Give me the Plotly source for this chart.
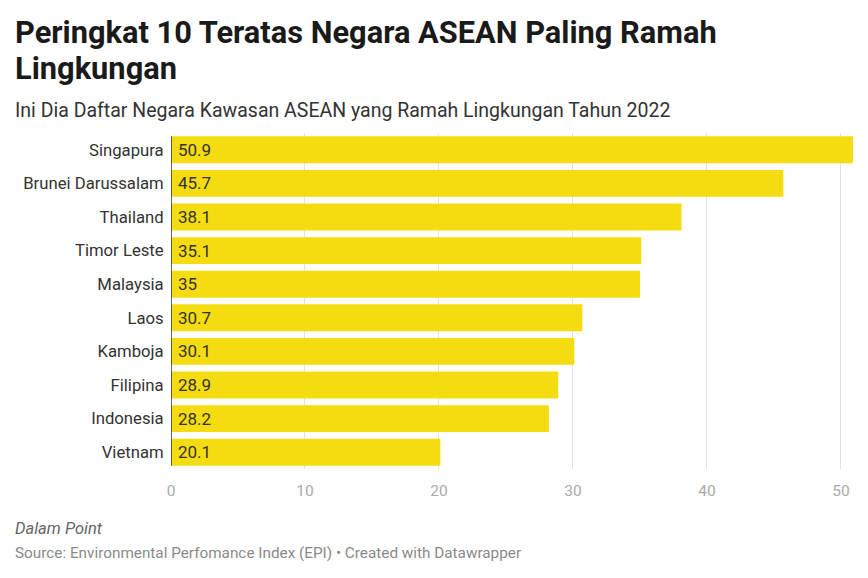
import plotly.graph_objects as go

countries = ["Singapura", "Brunei Darussalam", "Thailand", "Timor Leste", "Malaysia",
             "Laos", "Kamboja", "Filipina", "Indonesia", "Vietnam"]
values = [50.9, 45.7, 38.1, 35.1, 35, 30.7, 30.1, 28.9, 28.2, 20.1]
value_labels = ["50.9", "45.7", "38.1", "35.1", "35", "30.7", "30.1", "28.9", "28.2", "20.1"]
x_ticks = [0, 10, 20, 30, 40, 50]

title_lines = ["Peringkat 10 Teratas Negara ASEAN Paling Ramah", "Lingkungan"]
subtitle = "Ini Dia Daftar Negara Kawasan ASEAN yang Ramah Lingkungan Tahun 2022"
note = "Dalam Point"
source = "Source: Environmental Perfomance Index (EPI) • Created with Datawrapper"

W, H = 868, 578
ML, MR, MT, MB = 171, 15, 133, 109
FONT = "Roboto"

plot_w = W - ML - MR
plot_h = H - MT - MB


def py(y):
    # page pixel y (from top) -> paper fraction
    return (H - MB - y) / plot_h


def px(x):
    return (x - ML) / plot_w


fig = go.Figure()
fig.add_trace(go.Bar(
    y=countries, x=values, orientation="h",
    marker=dict(color="#f5dc10", line=dict(width=0)),
    hoverinfo="skip",
))

annotations = []
for c, lab in zip(countries, value_labels):
    annotations.append(dict(x=0, y=c, xref="x", yref="y", text=lab, showarrow=False,
                            xanchor="left", xshift=5, yanchor="middle",
                            font=dict(family=FONT, size=17, color="#333333")))

annotations += [
    dict(x=px(13), y=py(33), xref="paper", yref="paper", text="<b>" + title_lines[0] + "</b>",
         showarrow=False, xanchor="left", yanchor="middle",
         font=dict(family=FONT, size=30.8, color="#1a1a1a")),
    dict(x=px(13), y=py(68), xref="paper", yref="paper", text="<b>" + title_lines[1] + "</b>",
         showarrow=False, xanchor="left", yanchor="middle",
         font=dict(family=FONT, size=30.8, color="#1a1a1a")),
    dict(x=px(13), y=py(110), xref="paper", yref="paper", text=subtitle, showarrow=False,
         xanchor="left", yanchor="middle", font=dict(family=FONT, size=19.5, color="#333333")),
    dict(x=px(13), y=py(528), xref="paper", yref="paper", text="<i>" + note + "</i>",
         showarrow=False, xanchor="left", yanchor="middle",
         font=dict(family=FONT, size=16.5, color="#666666")),
    dict(x=px(13), y=py(553), xref="paper", yref="paper", text=source, showarrow=False,
         xanchor="left", yanchor="middle", font=dict(family=FONT, size=15.3, color="#8a8a8a")),
]

fig.update_layout(
    width=W, height=H,
    margin=dict(l=ML, r=MR, t=MT, b=MB),
    paper_bgcolor="white", plot_bgcolor="white",
    bargap=0.2,
    showlegend=False,
    xaxis=dict(range=[0, 50.9], tickvals=x_ticks, showgrid=True, gridcolor="#e0e0e0",
               gridwidth=1, zeroline=False, showline=False, ticks="outside", ticklen=7,
               tickcolor="rgba(0,0,0,0)",
               tickfont=dict(family=FONT, size=15.5, color="#aaaaaa"), fixedrange=True),
    yaxis=dict(autorange="reversed", showgrid=False, zeroline=False, showline=False,
               ticks="outside", ticklen=3, tickcolor="rgba(0,0,0,0)",
               tickfont=dict(family=FONT, size=16.7, color="#333333"), fixedrange=True),
    shapes=[dict(type="line", xref="x", yref="y", x0=0, x1=0, y0=-0.4, y1=9.4,
                 line=dict(color="#333333", width=1.5), layer="above")],
    annotations=annotations,
)

fig.write_html("out.html", config={"displayModeBar": False},
               post_script="document.body.style.margin='0';")
